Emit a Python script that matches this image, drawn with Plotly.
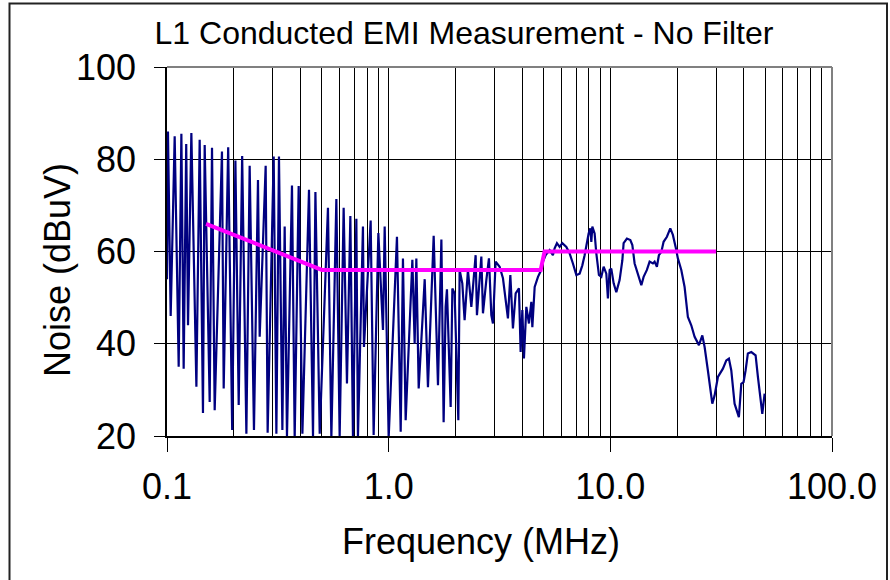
import plotly.graph_objects as go

# Measured noise (L1, no filter) - frequency in MHz, level in dBuV
freq_mhz = [
    0.1000, 0.1010, 0.1039, 0.1083, 0.1129, 0.1161, 0.1189, 0.1221, 0.1244, 0.1288,
    0.1357, 0.1404, 0.1453, 0.1479, 0.1558, 0.1596, 0.1641, 0.1770, 0.1802, 0.1888,
    0.1968, 0.2035, 0.2106, 0.2183, 0.2281, 0.2360, 0.2468, 0.2573, 0.2619, 0.2787,
    0.2845, 0.3029, 0.3115, 0.3200, 0.3315, 0.3395, 0.3477, 0.3663, 0.3767, 0.3927,
    0.4081, 0.4371, 0.4557, 0.4672, 0.4885, 0.5323, 0.5514, 0.5808, 0.6010, 0.6265,
    0.6484, 0.6717, 0.6901, 0.7149, 0.7268, 0.7656, 0.7736, 0.8294, 0.8556, 0.8985,
    0.9426, 0.9594, 1.000, 1.090, 1.133, 1.160, 1.193, 1.279, 1.310, 1.333,
    1.366, 1.454, 1.504, 1.596, 1.669, 1.729,
    1.770, 1.807, 1.832, 1.904, 1.938, 1.984, 2.062, 2.090, 2.149, 2.201,
    2.278, 2.360, 2.468, 2.502, 2.619, 2.663, 2.758, 2.834, 2.905, 2.954,
    3.038, 3.167, 3.278, 3.336, 3.452, 3.539, 3.636, 3.740, 3.870, 3.939,
    4.009, 4.076, 4.179, 4.294, 4.402, 4.448, 4.557, 4.716, 4.835, 4.967,
    5.108, 5.323, 5.508, 5.606, 5.742, 5.905, 6.073, 6.331, 6.552, 6.780,
    7.024, 7.269, 7.476, 7.656, 7.793, 7.981, 8.123, 8.208, 8.294, 8.494,
    8.645, 8.882, 9.106, 9.326, 9.592, 9.752, 9.928, 10.10, 10.35, 10.64,
    11.01, 11.33, 11.48, 11.88, 12.31, 12.57, 12.87, 13.32, 13.80, 14.13,
    14.62, 15.04, 15.56, 15.84, 16.22, 16.56, 16.98, 17.39, 18.00, 18.64,
    19.15, 19.70, 20.17, 20.90, 21.63, 22.38, 23.18, 24.00, 25.10, 26.00,
    26.63, 27.55, 28.84, 29.54, 30.57, 32.20, 33.35, 34.27, 35.13, 36.35,
    37.12, 38.01, 38.97, 39.91, 40.75, 41.73, 43.25, 45.23, 46.32, 47.49,
    48.48, 49.66,
]
noise_dbuv = [
    54.0, 86.0, 46.0, 85.0, 35.0, 85.5, 34.6, 83.3, 44.0, 85.7,
    30.7, 84.2, 25.0, 83.1, 27.4, 82.5, 25.6, 81.7, 30.3, 82.6,
    21.3, 79.7, 26.7, 80.7, 20.5, 78.6, 21.3, 75.5, 41.5, 78.6,
    20.7, 80.6, 20.5, 80.6, 21.3, 65.4, 19.8, 74.3, 19.6, 74.2,
    20.5, 73.4, 19.8, 72.9, 20.5, 69.5, 19.6, 71.4, 19.8, 69.5,
    31.4, 67.7, 19.8, 67.1, 19.8, 65.4, 39.3, 66.7, 20.2, 64.0,
    43.0, 65.4, 19.6, 63.2, 20.9, 58.5, 23.4, 58.2, 40.0, 58.5,
    30.3, 54.0, 30.6, 63.4, 31.0, 62.6,
    23.0, 48.0, 51.8, 26.3, 52.0, 50.9, 23.4, 56.0, 53.1, 45.1,
    56.0, 48.0, 59.2, 46.2, 58.9, 46.6, 53.8, 58.5, 46.2, 44.4,
    57.8, 56.7, 54.2, 50.9, 45.5, 54.9, 43.3, 50.9, 52.0, 38.2,
    47.3, 36.8, 48.0, 44.4, 49.1, 43.6, 52.3, 54.5, 55.6, 57.8,
    59.2, 60.3, 59.2, 60.7, 61.8, 61.0, 61.8, 61.0, 59.6, 57.4,
    54.9, 55.2, 57.0, 59.2, 61.4, 63.9, 65.0, 62.1, 65.4, 63.9,
    59.6, 54.9, 54.5, 56.7, 55.2, 49.8, 56.0, 56.3, 53.1, 51.2,
    53.8, 58.1, 61.8, 62.8, 62.5, 61.4, 57.4, 54.9, 52.7, 54.5,
    56.0, 57.8, 57.4, 57.8, 56.7, 59.2, 59.9, 62.1, 63.2, 65.0,
    63.6, 61.0, 58.5, 56.0, 52.3, 45.8, 44.0, 41.5, 39.7, 41.8,
    39.3, 34.2, 27.0, 28.8, 32.8, 34.6, 36.4, 36.8, 34.2, 27.0,
    25.5, 24.1, 31.3, 31.7, 34.2, 37.9, 38.2, 37.5, 32.8, 27.7,
    24.8, 29.2,
]

# Conducted emission limit line
limit_freq_mhz = [0.15, 0.5, 4.85, 5.05, 30.0]
limit_dbuv = [66.0, 56.0, 56.0, 60.0, 60.0]

x_tick_vals = [0.1, 1, 10, 100]
x_tick_text = ["0.1", "1.0", "10.0", "100.0"]
x_minor_vals = [m * d for d in (0.1, 1, 10) for m in range(2, 10)]
y_tick_vals = [20, 40, 60, 80, 100]

FONT = "Liberation Sans, Arial, Helvetica, sans-serif"

fig = go.Figure()
fig.add_trace(go.Scatter(x=freq_mhz, y=noise_dbuv, mode="lines",
                         line=dict(color="#000080", width=2.2), showlegend=False))
fig.add_trace(go.Scatter(x=limit_freq_mhz, y=limit_dbuv, mode="lines",
                         line=dict(color="#FF00FF", width=4), showlegend=False))

L, R, T, B = 167, 58, 67, 144
W, H = 890, 580
pw, ph = W - L - R, H - T - B

def px(x):
    return (x - L) / pw

def py(y):
    return (H - B - y) / ph

fig.update_layout(
    width=W, height=H,
    margin=dict(l=L, r=R, t=T, b=B),
    paper_bgcolor="white", plot_bgcolor="white",
    font=dict(family=FONT, color="black"),
    title=dict(text="L1 Conducted EMI Measurement - No Filter",
               x=464 / W, xref="container", xanchor="center",
               y=1 - 33 / H, yref="container", yanchor="middle",
               font=dict(size=32, family=FONT, color="black")),
    showlegend=False,
)
fig.update_xaxes(
    type="log", range=[-1, 2],
    tickmode="array", tickvals=x_tick_vals, ticktext=x_tick_text,
    ticks="outside", ticklen=14, tickwidth=1, tickcolor="black",
    tickfont=dict(size=36, family=FONT, color="black"),
    ticklabelstandoff=4,
    showgrid=True, gridcolor="black", gridwidth=1,
    minor=dict(tickmode="array", tickvals=x_minor_vals, showgrid=True,
               gridcolor="black", gridwidth=1, ticks=""),
    showline=True, linecolor="black", linewidth=1.5,
    zeroline=False, automargin=False,
)
fig.update_yaxes(
    range=[20, 100],
    tickmode="array", tickvals=y_tick_vals,
    ticks="outside", ticklen=11, tickwidth=1, tickcolor="black",
    tickfont=dict(size=36, family=FONT, color="black"),
    ticklabelstandoff=11,
    showgrid=True, gridcolor="black", gridwidth=1,
    showline=True, linecolor="black", linewidth=1.5,
    zeroline=False, automargin=False,
)

fig.add_annotation(text="Frequency (MHz)", xref="paper", yref="paper",
                   x=px(481), y=py(541), xanchor="center", yanchor="middle",
                   showarrow=False, font=dict(size=36, family=FONT, color="black"))
fig.add_annotation(text="Noise (dBuV)", xref="paper", yref="paper",
                   x=px(57), y=py(270), xanchor="center", yanchor="middle",
                   textangle=-90, showarrow=False,
                   font=dict(size=36, family=FONT, color="black"))

# grey top / right edges of plot area
fig.add_shape(type="line", xref="paper", yref="paper", x0=0, x1=1, y0=1, y1=1,
              line=dict(color="#808080", width=2))
fig.add_shape(type="line", xref="paper", yref="paper", x0=1, x1=1, y0=0, y1=1,
              line=dict(color="#808080", width=2))
# outer chart frame
fig.add_shape(type="rect", xref="paper", yref="paper",
              x0=px(9.5), x1=px(887), y0=py(620), y1=py(3.5),
              line=dict(color="#222222", width=2), fillcolor="rgba(0,0,0,0)")

fig.write_html("out.html")
